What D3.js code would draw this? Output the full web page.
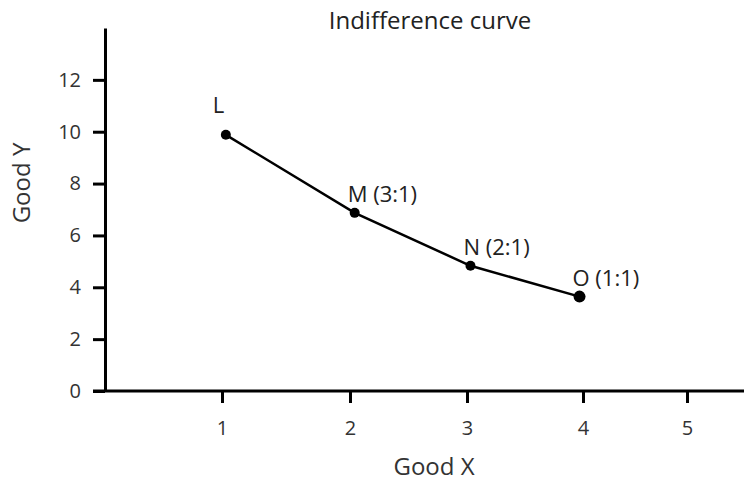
<!DOCTYPE html>
<html>
<head>
<meta charset="utf-8">
<script src="https://cdn.jsdelivr.net/npm/d3@7"></script>
<style>
  body { margin: 0; background: #fff; }
  svg { display: block; font-family: "Open Sans", sans-serif; }
  .axis path, .axis line { stroke: #000; stroke-width: 3; }
</style>
</head>
<body>
<svg id="chart"></svg>
<script>
// data
const pointNames = ["L", "M (3:1)", "N (2:1)", "O (1:1)"];
const goodX = [1.03, 2.04, 3.03, 3.97];
const goodY = [9.88, 6.87, 4.83, 3.64];
const xTicks = [1, 2, 3, 4, 5];
const yTicks = [0, 2, 4, 6, 8, 10, 12];

const width = 744, height = 484;

const svg = d3.select("#chart")
  .attr("width", width)
  .attr("height", height);

// the hand drawn x axis is not evenly spaced, so map each unit separately
const x = d3.scaleLinear()
  .domain([0, 1, 2, 3, 4, 5, 5.55])
  .range([105, 222, 350, 467, 583, 687, 744]);

const y = d3.scaleLinear()
  .domain([0, 14])
  .range([391, 28]);

const xAxis = d3.axisBottom(x)
  .tickValues(xTicks)
  .tickFormat(d3.format("d"))
  .tickSizeInner(12)
  .tickSizeOuter(0)
  .tickPadding(18);

svg.append("g")
  .attr("class", "x axis")
  .attr("transform", `translate(0,${y(0)})`)
  .call(xAxis);

// stretch the x axis line left under the y ticks
svg.select(".x.axis .domain")
  .attr("d", `M93,0H${width}`);

const yAxis = d3.axisLeft(y)
  .tickValues(yTicks)
  .tickSizeInner(12)
  .tickSizeOuter(0)
  .tickPadding(12);

svg.append("g")
  .attr("class", "y axis")
  .attr("transform", `translate(${x(0)},0)`)
  .call(yAxis);

svg.selectAll(".axis")
  .attr("font-family", null)
  .attr("font-size", null);
svg.selectAll(".axis text")
  .attr("fill", "#333")
  .style("font-size", "20px");

const pts = goodX.map((gx, i) => ({ x: gx, y: goodY[i], name: pointNames[i] }));

svg.append("path")
  .datum(pts)
  .attr("fill", "none")
  .attr("stroke", "#000")
  .attr("stroke-width", 2.5)
  .attr("d", d3.line()
    .x(d => x(d.x))
    .y(d => y(d.y)));

svg.selectAll(".dot")
  .data(pts)
  .join("circle")
  .attr("class", "dot")
  .attr("cx", d => x(d.x))
  .attr("cy", d => y(d.y))
  .attr("r", (d, i) => i === pts.length - 1 ? 6 : 5)
  .attr("fill", "#000");

svg.selectAll(".lbl")
  .data(pts)
  .join("text")
  .attr("class", "lbl")
  .attr("x", (d, i) => i === 0 ? x(d.x) - 13 : x(d.x) - 7)
  .attr("y", (d, i) => i === 0 ? y(d.y) - 22 : y(d.y) - 11)
  .attr("fill", "#222")
  .style("font-size", "22px")
  .text(d => d.name);

svg.append("text")
  .attr("x", 430)
  .attr("y", 29)
  .attr("text-anchor", "middle")
  .attr("fill", "#222")
  .style("font-size", "24px")
  .text("Indifference curve");

svg.append("text")
  .attr("x", 434)
  .attr("y", 475)
  .attr("text-anchor", "middle")
  .attr("fill", "#333")
  .style("font-size", "24px")
  .text("Good X");

svg.append("text")
  .attr("transform", "translate(30,183) rotate(-90)")
  .attr("text-anchor", "middle")
  .attr("fill", "#333")
  .style("font-size", "24px")
  .text("Good Y");
</script>
</body>
</html>
